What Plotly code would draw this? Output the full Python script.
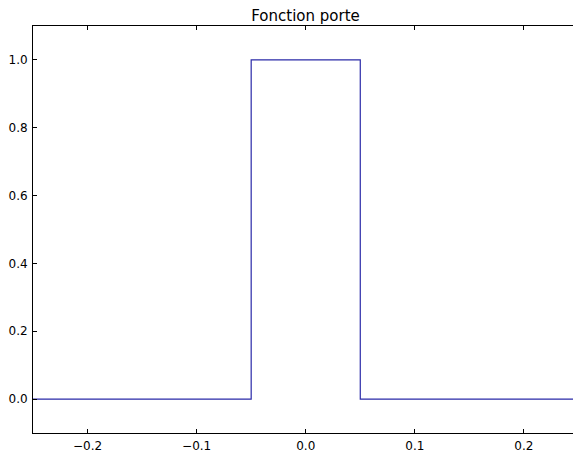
import plotly.graph_objects as go

x_vals = [-0.25, -0.05, -0.05, 0.05, 0.05, 0.25]
y_vals = [0, 0, 1, 1, 0, 0]
x_ticks = [-0.2, -0.1, 0.0, 0.1, 0.2]
x_labels = ["\u22120.2", "\u22120.1", "0.0", "0.1", "0.2"]
y_ticks = [0.0, 0.2, 0.4, 0.6, 0.8, 1.0]
y_labels = ["0.0", "0.2", "0.4", "0.6", "0.8", "1.0"]
title = "Fonction porte"

fig = go.Figure()
fig.add_trace(go.Scatter(x=x_vals, y=y_vals, mode="lines",
                         line=dict(color="#2a2aa8", width=1.2),
                         showlegend=False, hoverinfo="skip"))

W, H = 573, 452
L, R, T, B = 33, 0, 26, 19
fig.update_layout(
    width=W, height=H,
    margin=dict(l=L, r=R, t=T, b=B, autoexpand=False),
    paper_bgcolor="white", plot_bgcolor="white",
    font=dict(family="DejaVu Sans", size=12, color="black"),
    title=dict(text=title, x=305.5 / W, xref="container", xanchor="center",
               y=1 - 15.5 / H, yref="container", yanchor="middle",
               font=dict(size=15, color="black")),
    xaxis=dict(range=[-0.25, 0.245], tickvals=x_ticks, ticktext=x_labels,
               showgrid=False, zeroline=False, showline=True, linecolor="black",
               linewidth=1, mirror="ticks", ticks="inside", ticklen=4,
               tickcolor="black", tickwidth=1, ticklabelstandoff=2),
    yaxis=dict(range=[-0.1, 1.1], tickvals=y_ticks, ticktext=y_labels,
               showgrid=False, zeroline=False, showline=True, linecolor="black",
               linewidth=1, mirror=False, ticks="inside", ticklen=4,
               tickcolor="black", tickwidth=1, ticklabelstandoff=2),
)

fig.write_html(
    "out.html",
    config={"displayModeBar": False, "staticPlot": True},
    post_script="document.body.style.margin='0px';document.body.style.overflow='hidden';",
)
